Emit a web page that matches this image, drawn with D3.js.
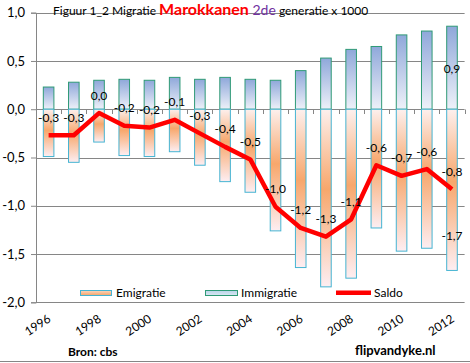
<!DOCTYPE html>
<html>
<head>
<meta charset="utf-8">
<script src="https://d3js.org/d3.v7.min.js"></script>
<style>
  body { margin: 0; background: #ffffff; }
  svg { display: block; font-family: Lato, "Open Sans", sans-serif; }
</style>
</head>
<body>
<div id="chart"></div>
<script>
// data
const years = d3.range(1996, 2013).map(String);
const immigratie = [0.23, 0.28, 0.30, 0.31, 0.30, 0.33, 0.31, 0.33, 0.31, 0.30, 0.40, 0.53, 0.62, 0.65, 0.77, 0.81, 0.86];
const emigratie = [-0.49, -0.55, -0.34, -0.48, -0.49, -0.44, -0.58, -0.75, -0.86, -1.26, -1.64, -1.84, -1.75, -1.23, -1.47, -1.44, -1.67];
const saldo = [-0.27, -0.27, -0.04, -0.17, -0.19, -0.11, -0.25, -0.39, -0.52, -1.01, -1.23, -1.32, -1.14, -0.58, -0.69, -0.62, -0.83];
const yTicks = [1, 0.5, 0, -0.5, -1, -1.5, -2];
const xTickLabels = ["1996", "1998", "2000", "2002", "2004", "2006", "2008", "2010", "2012"];

const width = 470, height = 363;
const fmt = v => d3.format(".1f")(v).replace(".", ",").replace("−", "-");

const svg = d3.select("#chart").append("svg")
  .attr("width", width)
  .attr("height", height);

const defs = svg.append("defs");
const gImm = defs.append("linearGradient").attr("id", "gImm")
  .attr("x1", 0).attr("y1", 0).attr("x2", 0).attr("y2", 1);
gImm.append("stop").attr("offset", "0%").attr("stop-color", "#8fa8da");
gImm.append("stop").attr("offset", "100%").attr("stop-color", "#eef1f9");

const gEmi = defs.append("linearGradient").attr("id", "gEmi")
  .attr("x1", 0).attr("y1", 0).attr("x2", 0).attr("y2", 1);
gEmi.append("stop").attr("offset", "0%").attr("stop-color", "#fdf0ee");
gEmi.append("stop").attr("offset", "45%").attr("stop-color", "#f7a76c");
gEmi.append("stop").attr("offset", "100%").attr("stop-color", "#fdeef2");

const gLegE = defs.append("linearGradient").attr("id", "gLegE")
  .attr("x1", 0).attr("y1", 0).attr("x2", 0).attr("y2", 1);
gLegE.append("stop").attr("offset", "0%").attr("stop-color", "#fbd6bd");
gLegE.append("stop").attr("offset", "100%").attr("stop-color", "#f6a46a");

const gLegI = defs.append("linearGradient").attr("id", "gLegI")
  .attr("x1", 0).attr("y1", 0).attr("x2", 0).attr("y2", 1);
gLegI.append("stop").attr("offset", "0%").attr("stop-color", "#b9d3e9");
gLegI.append("stop").attr("offset", "100%").attr("stop-color", "#d9e7f2");

const x = d3.scaleBand().domain(years).range([36, 464.6]).paddingInner(0.58).paddingOuter(0.29);
const y = d3.scaleLinear().domain([-2, 1]).range([302.3, 12.7]);
const step = x.step();

// gridlines + y axis
const yAxis = svg.append("g")
  .attr("transform", "translate(36,0)")
  .call(d3.axisLeft(y).tickValues(yTicks).tickSize(5).tickPadding(6).tickFormat(fmt));
yAxis.select(".domain").attr("stroke", "#868686");
yAxis.selectAll(".tick line").attr("stroke", "#868686");
yAxis.selectAll(".tick text")
  .attr("font-family", "Lato, sans-serif").attr("font-size", 13).attr("fill", "#000");

svg.append("g").selectAll("line")
  .data(yTicks)
  .join("line")
  .attr("x1", 36).attr("x2", 464.6)
  .attr("y1", d => Math.round(y(d)) + 0.5).attr("y2", d => Math.round(y(d)) + 0.5)
  .attr("stroke", "#868686");

// zero axis with category boundary ticks
svg.append("g").selectAll("line")
  .data(d3.range(years.length + 1))
  .join("line")
  .attr("x1", i => Math.round(36 + i * step) + 0.5)
  .attr("x2", i => Math.round(36 + i * step) + 0.5)
  .attr("y1", Math.round(y(0)) + 0.5).attr("y2", Math.round(y(0)) + 5)
  .attr("stroke", "#868686");

// bars
svg.append("g").selectAll("rect")
  .data(immigratie)
  .join("rect")
  .attr("x", (d, i) => x(years[i]))
  .attr("width", x.bandwidth())
  .attr("y", d => y(d))
  .attr("height", d => y(0) - y(d))
  .attr("fill", "url(#gImm)")
  .attr("stroke", "#2f9a76").attr("stroke-width", 1);

svg.append("g").selectAll("rect")
  .data(emigratie)
  .join("rect")
  .attr("x", (d, i) => x(years[i]))
  .attr("width", x.bandwidth())
  .attr("y", y(0))
  .attr("height", d => y(d) - y(0))
  .attr("fill", "url(#gEmi)")
  .attr("stroke", "#46b4d2").attr("stroke-width", 1);

// saldo line
const line = d3.line()
  .x((d, i) => x(years[i]) + x.bandwidth() / 2)
  .y(d => y(d));
svg.append("path")
  .datum(saldo)
  .attr("d", line)
  .attr("fill", "none")
  .attr("stroke", "#ff0000")
  .attr("stroke-width", 4.5)
  .attr("stroke-linejoin", "round");

// data labels
svg.append("g").selectAll("text")
  .data(saldo)
  .join("text")
  .attr("x", (d, i) => x(years[i]) + x.bandwidth() / 2)
  .attr("y", d => y(d) - 13.5)
  .attr("text-anchor", "middle")
  .attr("font-size", 12)
  .text(d => fmt(d));

const last = years.length - 1;
svg.append("text")
  .attr("x", x(years[last]) + x.bandwidth() / 2)
  .attr("y", y(immigratie[last]) + 47)
  .attr("text-anchor", "middle").attr("font-size", 12)
  .text(fmt(immigratie[last]));
svg.append("text")
  .attr("x", x(years[last]) + x.bandwidth() / 2)
  .attr("y", y(emigratie[last]) - 30)
  .attr("text-anchor", "middle").attr("font-size", 12)
  .text(fmt(emigratie[last]));

// x labels
svg.append("g").selectAll("text")
  .data(xTickLabels)
  .join("text")
  .attr("transform", d => `translate(${x(d) + x.bandwidth() / 2 + 3},321) rotate(-33)`)
  .attr("text-anchor", "end")
  .attr("font-size", 12)
  .text(d => d);

// title
const title = svg.append("text").attr("x", 53).attr("y", 15).attr("font-size", 12);
title.append("tspan").text("Figuur 1_2 Migratie ");
title.append("tspan").attr("fill", "#ff0000").attr("font-size", 16).attr("font-weight", "bold").text("Marokkanen");
title.append("tspan").attr("fill", "#7030a0").attr("font-size", 14).text(" 2de");
title.append("tspan").text(" generatie x 1000");

// legend
const leg = svg.append("g");
leg.append("rect").attr("x", 80.5).attr("y", 290.5).attr("width", 31).attr("height", 5)
  .attr("fill", "url(#gLegE)").attr("stroke", "#46b4d2");
leg.append("text").attr("x", 116).attr("y", 297).attr("font-size", 12).text("Emigratie");
leg.append("rect").attr("x", 205.5).attr("y", 290.5).attr("width", 32).attr("height", 5)
  .attr("fill", "url(#gLegI)").attr("stroke", "#2f9a76");
leg.append("text").attr("x", 241).attr("y", 297).attr("font-size", 12).text("Immigratie");
leg.append("line").attr("x1", 336).attr("x2", 371).attr("y1", 292.7).attr("y2", 292.7)
  .attr("stroke", "#ff0000").attr("stroke-width", 4.5);
leg.append("text").attr("x", 374).attr("y", 297).attr("font-size", 12).text("Saldo");

// footer
svg.append("text").attr("x", 68).attr("y", 356).attr("font-size", 12).attr("font-weight", "bold")
  .text("Bron: cbs");
svg.append("text").attr("x", 355).attr("y", 355).attr("font-size", 13).attr("font-weight", "bold")
  .text("flipvandyke.nl");
svg.append("line").attr("x1", 0).attr("x2", width).attr("y1", 361.5).attr("y2", 361.5)
  .attr("stroke", "#868686");
</script>
</body>
</html>
